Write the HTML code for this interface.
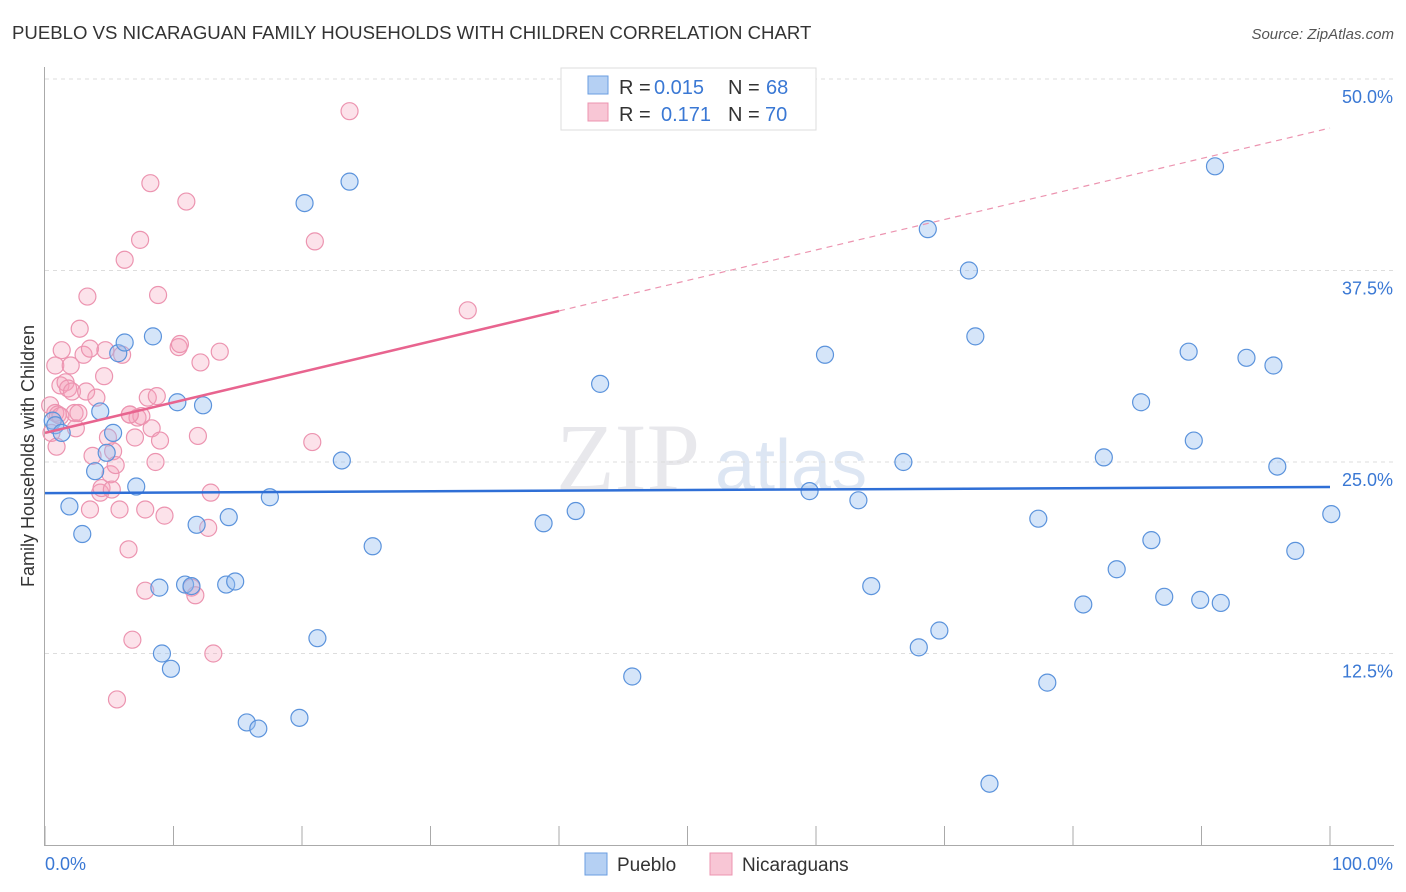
<!DOCTYPE html>
<html><head><meta charset="utf-8"><style>
body{margin:0;background:#fff;font-family:"Liberation Sans",sans-serif;}
svg{display:block}
</style></head><body>
<svg id="c" width="1406" height="892" xmlns="http://www.w3.org/2000/svg">
<text x="12" y="39" font-size="18.6" fill="#333">PUEBLO VS NICARAGUAN FAMILY HOUSEHOLDS WITH CHILDREN CORRELATION CHART</text>
<text x="1394" y="39" font-size="15" fill="#555" font-style="italic" text-anchor="end">Source: ZipAtlas.com</text>
<text x="700" y="490" font-size="96" fill="#e8e8ec" text-anchor="end" font-family="Liberation Serif">ZIP</text>
<text x="715" y="490" font-size="72" fill="#dde6f3">atlas</text>
<text transform="translate(34,456) rotate(-90)" font-size="18" fill="#333" text-anchor="middle">Family Households with Children</text>
<g id="grid"></g><g id="marks"></g>
<g>
<rect x="561" y="68" width="255" height="62" fill="#fff" stroke="#ddd"/>
<rect x="588" y="76" width="20" height="18" fill="#b5d0f3" stroke="#6a9ee0"/>
<rect x="588" y="103" width="20" height="18" fill="#f8c6d5" stroke="#ec94b0"/>
<g font-size="20" fill="#333">
<text x="619" y="94">R =</text><text x="654" y="94" fill="#3a78d4">0.015</text><text x="728" y="94">N =</text><text x="766" y="94" fill="#3a78d4">68</text>
<text x="619" y="121">R =</text><text x="661" y="121" fill="#3a78d4">0.171</text><text x="728" y="121">N =</text><text x="765" y="121" fill="#3a78d4">70</text>
</g>
</g>
<g>
<rect x="585" y="853" width="22" height="22" fill="#b5d0f3" stroke="#6a9ee0"/>
<text x="617" y="871" font-size="19" fill="#333">Pueblo</text>
<rect x="710" y="853" width="22" height="22" fill="#f8c6d5" stroke="#ec94b0"/>
<text x="742" y="871" font-size="19" fill="#333">Nicaraguans</text>
</g>
</svg>
<script>
const blueX=[0.6,0.8,1.3,1.9,2.9,3.9,4.3,4.8,5.3,5.7,6.2,7.1,8.4,8.9,9.1,9.8,10.3,10.9,11.4,11.8,12.3,14.1,14.3,14.8,15.7,16.6,17.5,19.8,20.2,21.2,23.1,23.7,25.5,38.8,41.3,43.2,45.7,59.5,60.7,63.3,64.3,66.8,68.0,68.7,69.6,71.9,72.4,77.3,78.0,80.8,82.4,83.4,85.3,86.1,87.1,89.0,89.4,89.9,91.05,91.5,93.5,95.6,95.9,97.3,100.1,73.5];
const blueY=[27.7,27.4,26.9,22.1,20.3,24.4,28.3,25.6,26.9,32.1,32.8,23.4,33.2,16.8,12.5,11.5,28.9,17.0,16.9,20.9,28.7,17.0,21.4,17.2,8.0,7.6,22.7,8.3,41.9,13.5,25.1,43.3,19.5,21.0,21.8,30.1,11.0,23.1,32.0,22.5,16.9,25.0,12.9,40.2,14.0,37.5,33.2,21.3,10.6,15.7,25.3,18.0,28.9,19.9,16.2,32.2,26.4,16.0,44.3,15.8,31.8,31.3,24.7,19.2,21.6,4.0];
const pinkX=[0.4,0.5,0.8,0.9,1.0,1.2,1.3,0.8,1.6,1.8,2.0,2.1,2.3,2.4,2.6,2.7,3.0,3.2,3.3,3.5,3.5,3.7,4.0,4.3,4.4,4.6,4.7,4.9,5.1,5.2,5.3,5.5,5.6,5.8,6.0,6.2,6.5,6.6,6.8,7.0,7.2,7.4,7.5,7.8,7.8,8.0,8.2,8.3,8.6,8.7,8.8,8.95,9.3,10.4,10.5,11.0,11.4,11.7,11.9,12.1,12.7,12.9,13.1,13.6,20.8,21.0,23.7,32.9,6.6,1.2];
const pinkY=[28.7,26.9,28.2,26.0,28.1,30.0,32.3,31.3,30.2,29.8,31.3,29.6,28.2,27.2,28.2,33.7,32.0,29.6,35.8,32.4,21.9,25.4,29.2,23.0,23.3,30.6,32.3,26.6,24.2,23.2,25.7,24.8,9.5,21.9,32.0,38.2,19.3,28.1,13.4,26.6,27.9,39.5,28.0,16.6,21.9,29.2,43.2,27.2,25.0,29.3,35.9,26.4,21.5,32.5,32.7,42.0,16.8,16.3,26.7,31.5,20.7,23.0,12.5,32.2,26.3,39.4,47.9,34.9,28.1,28.0];
const yTicks=[12.5,25.0,37.5,50.0];
const blueLine=[22.97,23.37], pinkLine=[26.9,46.8], pinkSolidEnd=40;
const X0=45,X1=1330,Y0=845,YS=15.32;
const sx=v=>X0+(X1-X0)*v/100, sy=v=>Y0-v*YS;
const NS='http://www.w3.org/2000/svg';
function mk(p,t,a){const e=document.createElementNS(NS,t);for(const k in a)e.setAttribute(k,a[k]);p.appendChild(e);return e;}
const g=document.getElementById('grid'), m=document.getElementById('marks');
for(const t of yTicks){
 const l=mk(g,'line',{x1:45,x2:1394,y1:sy(t),y2:sy(t),stroke:'#ddd','stroke-dasharray':'4,4'});
 
 
 const tx=mk(g,'text',{x:1393,y:sy(t)+24,'font-size':18,fill:'#3a78d4','text-anchor':'end'});tx.textContent=t.toFixed(1)+'%';
 
 
}
mk(g,'line',{x1:44.5,x2:44.5,y1:67,y2:845,stroke:'#aaa'});
mk(g,'line',{x1:44,x2:1394,y1:845.5,y2:845.5,stroke:'#aaa'});
for(let i=0;i<=10;i++){const x=sx(i*10);mk(g,'line',{x1:x,x2:x,y1:826,y2:845,stroke:'#aaa'});}
let t0=mk(g,'text',{x:45,y:870,'font-size':18,fill:'#3a78d4'});t0.textContent='0.0%';


let t1=mk(g,'text',{x:1393,y:870,'font-size':18,fill:'#3a78d4','text-anchor':'end'});t1.textContent='100.0%';


for(let i=0;i<pinkX.length;i++){const c=mk(m,'circle',{cx:sx(pinkX[i]),cy:sy(pinkY[i]),r:8.5,fill:'rgba(244,160,186,0.3)',stroke:'#ec94b0','stroke-width':1.2});
 
 }
for(let i=0;i<blueX.length;i++){const c=mk(m,'circle',{cx:sx(blueX[i]),cy:sy(blueY[i]),r:8.5,fill:'rgba(150,190,240,0.4)',stroke:'#5b93dc','stroke-width':1.2});
 
 }
const bl=mk(m,'line',{x1:sx(0),x2:sx(100),y1:sy(blueLine[0]),y2:sy(blueLine[1]),stroke:'#2f6fd6','stroke-width':2.5});


const pm=v=>pinkLine[0]+(pinkLine[1]-pinkLine[0])*v/100;
const pl=mk(m,'line',{x1:sx(0),x2:sx(pinkSolidEnd),y1:sy(pm(0)),y2:sy(pm(pinkSolidEnd)),stroke:'#e8648f','stroke-width':2.5});


const pd=mk(m,'line',{x1:sx(pinkSolidEnd),x2:sx(100),y1:sy(pm(pinkSolidEnd)),y2:sy(pm(100)),stroke:'#ec94b0','stroke-width':1.2,'stroke-dasharray':'6,5'});


</script>
</body></html>
